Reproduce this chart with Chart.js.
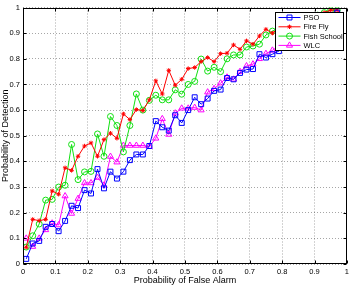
<!DOCTYPE html>
<html><head><meta charset="utf-8">
<script src="https://cdn.jsdelivr.net/npm/chart.js@4/dist/chart.umd.min.js"></script>
<style>html,body{margin:0;padding:0;background:#fff;}#wrap{width:352px;height:287px;}</style>
</head><body><div id="wrap"><canvas id="c" width="352" height="287"></canvas></div>
<script>
const xValues = [0.01,0.03,0.05,0.07,0.09,0.11,0.13,0.15,0.17,0.19,0.21,0.23,0.25,0.27,0.29,0.31,0.33,0.35,0.37,0.39,0.41,0.43,0.45,0.47,0.49,0.51,0.53,0.55,0.57,0.59,0.61,0.63,0.65,0.67,0.69,0.71,0.73,0.75,0.77,0.79,0.81,0.83,0.85,0.87,0.89,0.91,0.93,0.95,0.97];
const pso = [0.02,0.08,0.09,0.145,0.156,0.128,0.168,0.227,0.218,0.288,0.275,0.37,0.295,0.36,0.333,0.36,0.405,0.427,0.427,0.46,0.557,0.533,0.52,0.58,0.55,0.60,0.65,0.623,0.645,0.675,0.68,0.725,0.72,0.745,0.758,0.76,0.818,0.805,0.818,0.83,0.85,0.87,0.89,0.91,0.93,0.95,0.96,0.97,0.98];
const fireFly = [0.065,0.174,0.169,0.174,0.285,0.272,0.375,0.365,0.42,0.46,0.472,0.42,0.485,0.51,0.49,0.585,0.563,0.602,0.598,0.64,0.714,0.663,0.755,0.697,0.72,0.762,0.766,0.789,0.805,0.789,0.82,0.822,0.854,0.837,0.87,0.857,0.889,0.915,0.90,0.92,0.93,0.94,0.95,0.96,0.96,0.97,0.98,0.99,0.99];
const fishSchool = [0.066,0.11,0.156,0.249,0.252,0.30,0.307,0.466,0.329,0.359,0.361,0.507,0.42,0.575,0.54,0.437,0.54,0.663,0.60,0.638,0.658,0.64,0.64,0.679,0.662,0.70,0.712,0.799,0.752,0.767,0.75,0.80,0.815,0.815,0.846,0.85,0.857,0.893,0.908,0.92,0.93,0.94,0.95,0.96,0.965,0.97,0.98,0.99,0.99];
const wlc = [0.10,0.068,0.10,0.133,0.159,0.152,0.265,0.197,0.255,0.316,0.316,0.337,0.307,0.419,0.397,0.462,0.462,0.462,0.462,0.458,0.49,0.566,0.505,0.588,0.607,0.607,0.61,0.60,0.67,0.683,0.705,0.728,0.72,0.75,0.772,0.779,0.80,0.82,0.833,0.85,0.86,0.88,0.90,0.92,0.94,0.95,0.96,0.97,0.98];
const seriesNames = ['PSO','Fire Fly','Fish School','WLC'];
const tickValues = [0,0.1,0.2,0.3,0.4,0.5,0.6,0.7,0.8,0.9,1];
const xTickLabels = ['0','0.1','0.2','0.3','0.4','0.5','0.6','0.7','0.8','0.9','1'];
const yTickLabels = ['0','0.1','0.2','0.3','0.4','0.5','0.6','0.7','0.8','0.9','1'];
const xTitle = 'Probability of False Alarm';
const yTitle = 'Probability of Detection';

const FONT = '"Liberation Sans", Arial, sans-serif';
const pts = arr => xValues.map((x,i)=>({x:x, y:arr[i]}));
const mk = (label, arr, color, style, r) => ({
  label, data: pts(arr), borderColor: color, backgroundColor: color,
  borderWidth: 1, pointStyle: style, pointRadius: r, pointBorderWidth: 1,
  pointBorderColor: color, pointBackgroundColor: 'rgba(0,0,0,0)', tension: 0, fill: false
});

const frame = {
  id: 'frame',
  afterDatasetsDraw(chart) {
    const {ctx, chartArea: a, scales: {x, y}} = chart;
    ctx.save();
    ctx.strokeStyle = '#000'; ctx.lineWidth = 1; ctx.setLineDash([]);
    const L = Math.round(a.left)+0.5, R = Math.round(a.right)-0.5, T = Math.round(a.top)+0.5, B = Math.round(a.bottom)-0.5;
    ctx.beginPath();
    tickValues.forEach(v => {
      const px = Math.round(x.getPixelForValue(v))+0.5;
      ctx.moveTo(px, B); ctx.lineTo(px, B-3);
      ctx.moveTo(px, T); ctx.lineTo(px, T+3);
      const py = Math.round(y.getPixelForValue(v))+0.5;
      ctx.moveTo(L, py); ctx.lineTo(L+3, py);
      ctx.moveTo(R, py); ctx.lineTo(R-3, py);
    });
    ctx.stroke();
    ctx.strokeRect(L, T, R-L, B-T);
    // legend box
    const w = 68, h = 38;
    const lx = Math.round(a.right) - 4 - w + 0.5, ly = Math.round(a.top) + 4 + 0.5;
    ctx.fillStyle = '#fff';
    ctx.fillRect(lx, ly, w, h);
    ctx.strokeStyle = '#000';
    ctx.strokeRect(lx, ly, w, h);
    ctx.font = '7.5px ' + FONT;
    ctx.textBaseline = 'middle';
    chart.data.datasets.forEach((ds, i) => {
      const yc = ly + 5 + i * 9.3;
      ctx.strokeStyle = ds.borderColor;
      ctx.beginPath(); ctx.moveTo(lx+3, yc); ctx.lineTo(lx+25, yc); ctx.stroke();
      ctx.fillStyle = 'rgba(0,0,0,0)';
      Chart.helpers.drawPoint(ctx, {pointStyle: ds.pointStyle, radius: ds.pointRadius, rotation: 0, borderWidth: 1}, lx+14, yc);
      ctx.fillStyle = '#000';
      ctx.fillText(ds.label, lx+28, yc+0.5);
    });
    ctx.restore();
  }
};

new Chart(document.getElementById('c'), {
  type: 'line',
  data: { datasets: [
    mk(seriesNames[0], pso, '#0000ff', 'rect', 3.5),
    mk(seriesNames[1], fireFly, '#ff0000', 'star', 2.2),
    mk(seriesNames[2], fishSchool, '#11e011', 'circle', 3),
    mk(seriesNames[3], wlc, '#ff00ff', 'triangle', 3.5)
  ]},
  options: {
    responsive: false, animation: false, devicePixelRatio: 1,
    layout: { padding: { top: 6, right: 3, left: 0, bottom: 0 } },
    plugins: { legend: { display: false }, tooltip: { enabled: false } },
    scales: {
      x: {
        type: 'linear', min: 0, max: 1,
        afterBuildTicks: s => { s.ticks = tickValues.map(v => ({value: v})); },
        ticks: { callback: (v, i) => xTickLabels[i], font: {family: FONT, size: 7.5}, color: '#000', padding: 3, maxRotation: 0, autoSkip: false },
        grid: { color: 'rgba(0,0,0,0.35)', drawTicks: false },
        border: { display: false, dash: [1, 2] },
        title: { display: true, text: xTitle, font: {family: FONT, size: 9}, color: '#000', padding: {top: 0, bottom: 1.5} },
        afterFit: s => { s.height = 23; }
      },
      y: {
        type: 'linear', min: 0, max: 1,
        afterBuildTicks: s => { s.ticks = tickValues.map(v => ({value: v})); },
        ticks: { callback: (v, i) => yTickLabels[i], font: {family: FONT, size: 7.5}, color: '#000', padding: 3, autoSkip: false },
        grid: { color: 'rgba(0,0,0,0.35)', drawTicks: false },
        border: { display: false, dash: [1, 2] },
        title: { display: true, text: yTitle, font: {family: FONT, size: 9}, color: '#000', padding: {top: 0, bottom: 0} },
        afterFit: s => { s.width = 23; }
      }
    }
  },
  plugins: [frame]
});
</script></body></html>
